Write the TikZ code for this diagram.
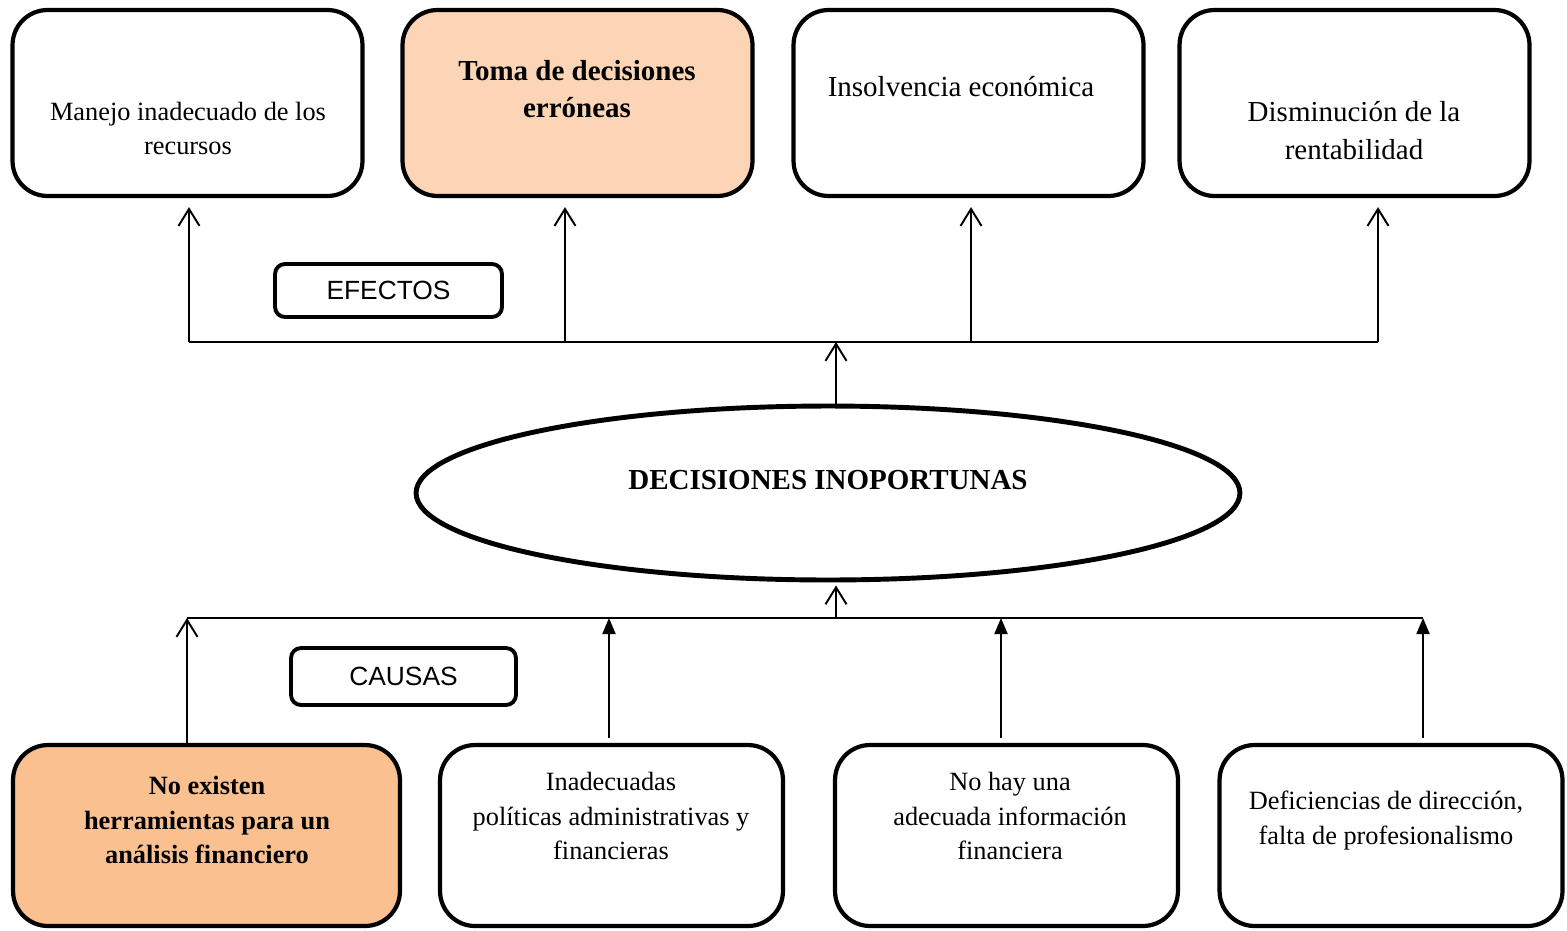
\documentclass[tikz,border=0pt]{standalone}
\usepackage{fontspec}
\setmainfont{Liberation Serif}
\newfontfamily\arialfont{Liberation Sans}
\usetikzlibrary{arrows.meta,shapes.geometric}
\definecolor{peachlight}{HTML}{FBD5B5}
\definecolor{peachdark}{HTML}{FAC090}
\tikzset{
	effbox/.style={draw, line width=2.4pt, rounded corners=0.7cm, inner sep=0pt, minimum width=7cm, minimum height=3.72cm},
	causebox/.style={draw, line width=2.4pt, rounded corners=0.7cm, inner sep=0pt, minimum width=6.86cm, minimum height=3.62cm},
	tagbox/.style={draw, line width=2.2pt, rounded corners=0.2cm, inner sep=0pt, font=\arialfont\fontsize{15}{18}\selectfont},
	txtsmall/.style={align=center, inner sep=0pt, font=\fontsize{15}{19.9}\selectfont},
	txtbig/.style={align=center, inner sep=0pt, font=\fontsize{16.5}{22}\selectfont},
	link/.style={line width=1.1pt},
	openarr/.style={link, -{Straight Barb[length=0.34cm,width=0.42cm,line width=1.1pt]}},
	fillarr/.style={link, -{Triangle[length=0.32cm,width=0.26cm]}},
}
\begin{document}
\begin{tikzpicture}[x=0.02cm, y=-0.02cm]
		%%%%% START %%%%%
		\useasboundingbox (0, 0) rectangle (1567, 930);
		
		% efectos
		\node[effbox] (manejo) at (187.5, 103) {};
		\node[effbox, fill=peachlight] (toma) at (577.5, 103) {};
		\node[effbox] (insolv) at (968.5, 103) {};
		\node[effbox] (disminu) at (1354.5, 103) {};
		\node[txtsmall] (manejotxt) at (188, 128.5) {Manejo inadecuado de los\\recursos};
		\node[txtbig, font=\bfseries\fontsize{16.5}{21}\selectfont] (tomatxt) at (577, 89.5) {Toma de decisiones\\erróneas};
		\node[txtbig] (insolvtxt) at (961, 87) {Insolvencia económica};
		\node[txtbig] (disminutxt) at (1354, 130.5) {Disminución de la\\rentabilidad};
		
		\node[tagbox, minimum width=4.54cm, minimum height=1.06cm] (efectos) at (388.5, 290.5) {EFECTOS};
		
		% problema central
		\node[ellipse, draw, line width=2.8pt, inner sep=0pt, minimum width=16.48cm, minimum height=3.48cm] (decis) at (828, 493) {};
		\node[txtbig, font=\bfseries\fontsize{16.5}{22}\selectfont] (decistxt) at (828, 480) {DECISIONES INOPORTUNAS};
		
		\node[tagbox, minimum width=4.5cm, minimum height=1.14cm] (causas) at (403.5, 676.5) {CAUSAS};
		
		% causas
		\node[causebox, fill=peachdark, minimum width=7.74cm] (noexist) at (206.5, 835.5) {};
		\node[causebox] (politicas) at (611.5, 835.5) {};
		\node[causebox] (infofin) at (1006.5, 835.5) {};
		\node[causebox] (deficien) at (1391, 835.5) {};
		\node[txtsmall, font=\bfseries\fontsize{15}{19.9}\selectfont] (noexisttxt) at (207, 820) {No existen\\herramientas para un\\análisis financiero};
		\node[txtsmall] (politicastxt) at (611, 816) {Inadecuadas\\políticas administrativas y\\financieras};
		\node[txtsmall] (infofintxt) at (1010, 816) {No hay una\\adecuada información\\financiera};
		\node[txtsmall] (deficientxt) at (1386, 820.5) {Deficiencias de dirección,\\falta de profesionalismo};
		
		% conectores superiores
		\coordinate (t1) at (189, 342);
		\coordinate (t2) at (565, 342);
		\coordinate (t3) at (971, 342);
		\coordinate (t4) at (1378, 342);
		\coordinate (tup) at (836, 342);
		\draw[link] (t1) -- (t4);
		\draw[openarr, shorten >=0.18cm] (t1) -- (t1 |- manejo.south);
		\draw[openarr, shorten >=0.18cm] (t2) -- (t2 |- toma.south);
		\draw[openarr, shorten >=0.18cm] (t3) -- (t3 |- insolv.south);
		\draw[openarr, shorten >=0.18cm] (t4) -- (t4 |- disminu.south);
		\draw[openarr] (decis.north -| tup) -- (tup);
		
		% conectores inferiores
		\coordinate (b1) at (187, 618);
		\coordinate (b2) at (609, 618);
		\coordinate (b3) at (1001, 618);
		\coordinate (b4) at (1423, 618);
		\coordinate (bup) at (836, 618);
		\draw[link] (b1) -- (b4);
		\draw[openarr, shorten >=0.06cm] (bup) -- (bup |- decis.south);
		\draw[openarr] (b1 |- noexist.north) -- (b1);
		\draw[fillarr] ([yshift=0.1cm]b2 |- politicas.north) -- (b2);
		\draw[fillarr] ([yshift=0.1cm]b3 |- infofin.north) -- (b3);
		\draw[fillarr] ([yshift=0.1cm]b4 |- deficien.north) -- (b4);
		
		%%%%% END %%%%%
\end{tikzpicture}
\end{document}
